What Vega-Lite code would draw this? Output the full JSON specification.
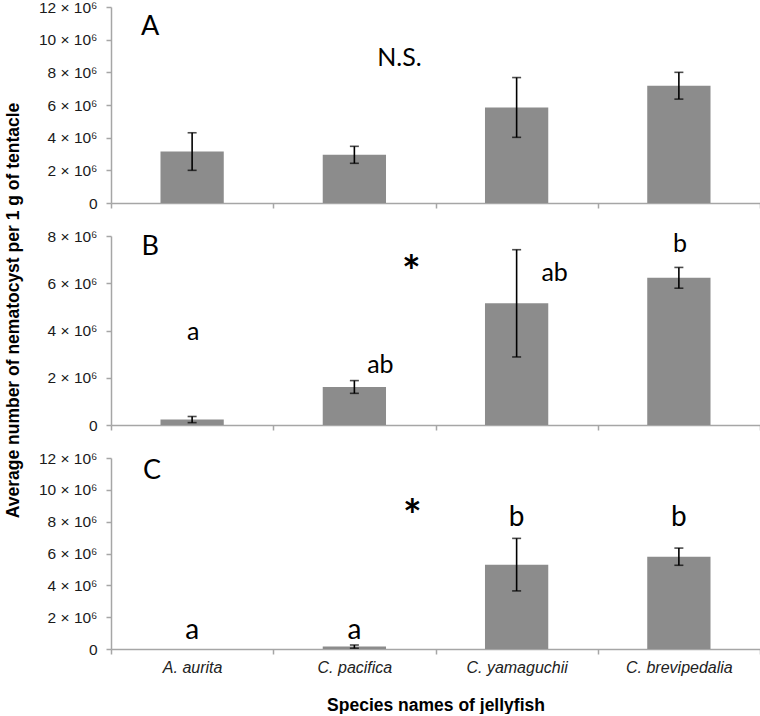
{
  "$schema": "https://vega.github.io/schema/vega-lite/v6.json",
  "background": "white",
  "padding": {"left": 3, "top": 0, "right": 1, "bottom": 0},
  "bounds": "flush",
  "spacing": 33,
  "config": {
    "view": {"stroke": null},
    "axis": {
      "grid": false,
      "domainColor": "#a6a6a6",
      "domainWidth": 1.5,
      "tickColor": "#a6a6a6",
      "tickWidth": 1.5,
      "tickSize": 5,
      "labelFont": "Liberation Sans",
      "labelFontSize": 15.5,
      "labelColor": "#1a1a1a",
      "labelOverlap": false,
      "titleFont": "Liberation Sans",
      "titleFontSize": 17.5,
      "titleFontWeight": "bold",
      "titleColor": "#000000"
    },
    "text": {"font": "Lato", "fontSize": 25, "color": "#000000", "baseline": "middle", "align": "center"}
  },
  "datasets": {
    "barsA": [
      {"species": "A. aurita", "mean": 3150000, "err": 1150000},
      {"species": "C. pacifica", "mean": 2950000, "err": 520000},
      {"species": "C. yamaguchii", "mean": 5850000, "err": 1830000},
      {"species": "C. brevipedalia", "mean": 7180000, "err": 820000}
    ],
    "barsB": [
      {"species": "A. aurita", "mean": 230000, "err": 130000},
      {"species": "C. pacifica", "mean": 1610000, "err": 270000},
      {"species": "C. yamaguchii", "mean": 5150000, "err": 2270000},
      {"species": "C. brevipedalia", "mean": 6230000, "err": 440000}
    ],
    "barsC": [
      {"species": "A. aurita", "mean": 0, "err": null},
      {"species": "C. pacifica", "mean": 150000, "err": 100000},
      {"species": "C. yamaguchii", "mean": 5300000, "err": 1650000},
      {"species": "C. brevipedalia", "mean": 5800000, "err": 540000}
    ],
    "notes": [
      {"panel": "A", "kind": "panel", "species": "A. aurita", "label": "A", "y": 10800000},
      {"panel": "A", "kind": "test", "species": "C. pacifica", "label": "N.S.", "y": 8870000},
      {"panel": "B", "kind": "panel", "species": "A. aurita", "label": "B", "y": 7540000},
      {"panel": "B", "kind": "letter", "species": "A. aurita", "label": "a", "y": 3950000},
      {"panel": "B", "kind": "letter2", "species": "C. pacifica", "label": "ab", "y": 2520000},
      {"panel": "B", "kind": "test", "species": "C. pacifica", "label": "*", "y": 6400000},
      {"panel": "B", "kind": "letter3", "species": "C. yamaguchii", "label": "ab", "y": 6450000},
      {"panel": "B", "kind": "letter", "species": "C. brevipedalia", "label": "b", "y": 7670000},
      {"panel": "C", "kind": "panel", "species": "A. aurita", "label": "C", "y": 11200000},
      {"panel": "C", "kind": "letter", "species": "A. aurita", "label": "a", "y": 1130000},
      {"panel": "C", "kind": "letter", "species": "C. pacifica", "label": "a", "y": 1130000},
      {"panel": "C", "kind": "test", "species": "C. pacifica", "label": "*", "y": 8260000},
      {"panel": "C", "kind": "letter", "species": "C. yamaguchii", "label": "b", "y": 8240000},
      {"panel": "C", "kind": "letter", "species": "C. brevipedalia", "label": "b", "y": 8240000}
    ]
  },
  "vconcat": [
    {
      "width": 649,
      "height": 196,
      "encoding": {
        "x": {"field": "species", "type": "nominal",
          "scale": {"domain": ["A. aurita", "C. pacifica", "C. yamaguchii", "C. brevipedalia"], "paddingInner": 0, "paddingOuter": 0},
          "axis": {"labels": false, "title": null, "tickBand": "extent"}}
      },
      "layer": [
        {
          "data": {"name": "barsA"},
          "mark": {"type": "bar", "color": "#8c8c8c", "width": {"band": 0.39}},
          "encoding": {
            "y": {"field": "mean", "type": "quantitative",
              "scale": {"domain": [0, 12000000], "nice": false},
              "axis": {"title": null, "labelOverlap": false, "values": [0, 2000000, 4000000, 6000000, 8000000, 10000000, 12000000], "labelPadding": 9,
                "labelExpr": "datum.value == 0 ? '0' : format(datum.value / 1000000, 'd') + ' × 10⁶'"}}
          }
        },
        {
          "data": {"name": "barsA"},
          "mark": {"type": "errorbar", "ticks": {"size": 9, "thickness": 1.6, "color": "#000000"}, "rule": {"strokeWidth": 1.6, "color": "#000000"}},
          "encoding": {
            "y": {"field": "mean", "type": "quantitative",
              "axis": {"title": null, "labelOverlap": false, "values": [0, 2000000, 4000000, 6000000, 8000000, 10000000, 12000000], "labelPadding": 9,
                "labelExpr": "datum.value == 0 ? '0' : format(datum.value / 1000000, 'd') + ' × 10⁶'"}},
            "yError": {"field": "err"}
          }
        },
        {
          "data": {"name": "notes"},
          "transform": [{"filter": "datum.panel == 'A' && datum.kind == 'panel'"}],
          "mark": {"type": "text", "dx": -42, "fontSize": 27},
          "encoding": {
            "y": {"field": "y", "type": "quantitative",
              "axis": {"title": null, "labelOverlap": false, "values": [0, 2000000, 4000000, 6000000, 8000000, 10000000, 12000000], "labelPadding": 9,
                "labelExpr": "datum.value == 0 ? '0' : format(datum.value / 1000000, 'd') + ' × 10⁶'"}},
            "text": {"field": "label"}
          }
        },
        {
          "data": {"name": "notes"},
          "transform": [{"filter": "datum.panel == 'A' && datum.kind == 'test'"}],
          "mark": {"type": "text", "dx": 45, "fontSize": 25},
          "encoding": {
            "y": {"field": "y", "type": "quantitative",
              "axis": {"title": null, "labelOverlap": false, "values": [0, 2000000, 4000000, 6000000, 8000000, 10000000, 12000000], "labelPadding": 9,
                "labelExpr": "datum.value == 0 ? '0' : format(datum.value / 1000000, 'd') + ' × 10⁶'"}},
            "text": {"field": "label"}
          }
        }
      ]
    },
    {
      "width": 649,
      "height": 189,
      "encoding": {
        "x": {"field": "species", "type": "nominal",
          "scale": {"domain": ["A. aurita", "C. pacifica", "C. yamaguchii", "C. brevipedalia"], "paddingInner": 0, "paddingOuter": 0},
          "axis": {"labels": false, "title": null, "tickBand": "extent"}}
      },
      "layer": [
        {
          "data": {"name": "barsB"},
          "mark": {"type": "bar", "color": "#8c8c8c", "width": {"band": 0.39}},
          "encoding": {
            "y": {"field": "mean", "type": "quantitative",
              "scale": {"domain": [0, 8000000], "nice": false},
              "axis": {"title": "Average number of nematocyst per 1 g of tentacle", "titleY": 74, "titleX": -98, "titleBaseline": "middle", "titleAngle": 270,
                "labelOverlap": false, "values": [0, 2000000, 4000000, 6000000, 8000000], "labelPadding": 9,
                "labelExpr": "datum.value == 0 ? '0' : format(datum.value / 1000000, 'd') + ' × 10⁶'"}}
          }
        },
        {
          "data": {"name": "barsB"},
          "mark": {"type": "errorbar", "ticks": {"size": 9, "thickness": 1.6, "color": "#000000"}, "rule": {"strokeWidth": 1.6, "color": "#000000"}},
          "encoding": {
            "y": {"field": "mean", "type": "quantitative",
              "axis": {"title": "Average number of nematocyst per 1 g of tentacle", "titleY": 74, "titleX": -98, "titleBaseline": "middle", "titleAngle": 270,
                "labelOverlap": false, "values": [0, 2000000, 4000000, 6000000, 8000000], "labelPadding": 9,
                "labelExpr": "datum.value == 0 ? '0' : format(datum.value / 1000000, 'd') + ' × 10⁶'"}},
            "yError": {"field": "err"}
          }
        },
        {
          "data": {"name": "notes"},
          "transform": [{"filter": "datum.panel == 'B' && datum.kind == 'panel'"}],
          "mark": {"type": "text", "dx": -42, "fontSize": 27},
          "encoding": {
            "y": {"field": "y", "type": "quantitative",
              "axis": {"title": "Average number of nematocyst per 1 g of tentacle", "titleY": 74, "titleX": -98, "titleBaseline": "middle", "titleAngle": 270,
                "labelOverlap": false, "values": [0, 2000000, 4000000, 6000000, 8000000], "labelPadding": 9,
                "labelExpr": "datum.value == 0 ? '0' : format(datum.value / 1000000, 'd') + ' × 10⁶'"}},
            "text": {"field": "label"}
          }
        },
        {
          "data": {"name": "notes"},
          "transform": [{"filter": "datum.panel == 'B' && datum.kind == 'letter'"}],
          "mark": {"type": "text", "dx": 1, "fontSize": 25},
          "encoding": {
            "y": {"field": "y", "type": "quantitative",
              "axis": {"title": "Average number of nematocyst per 1 g of tentacle", "titleY": 74, "titleX": -98, "titleBaseline": "middle", "titleAngle": 270,
                "labelOverlap": false, "values": [0, 2000000, 4000000, 6000000, 8000000], "labelPadding": 9,
                "labelExpr": "datum.value == 0 ? '0' : format(datum.value / 1000000, 'd') + ' × 10⁶'"}},
            "text": {"field": "label"}
          }
        },
        {
          "data": {"name": "notes"},
          "transform": [{"filter": "datum.panel == 'B' && datum.kind == 'letter2'"}],
          "mark": {"type": "text", "dx": 26, "fontSize": 25},
          "encoding": {
            "y": {"field": "y", "type": "quantitative",
              "axis": {"title": "Average number of nematocyst per 1 g of tentacle", "titleY": 74, "titleX": -98, "titleBaseline": "middle", "titleAngle": 270,
                "labelOverlap": false, "values": [0, 2000000, 4000000, 6000000, 8000000], "labelPadding": 9,
                "labelExpr": "datum.value == 0 ? '0' : format(datum.value / 1000000, 'd') + ' × 10⁶'"}},
            "text": {"field": "label"}
          }
        },
        {
          "data": {"name": "notes"},
          "transform": [{"filter": "datum.panel == 'B' && datum.kind == 'letter3'"}],
          "mark": {"type": "text", "dx": 38, "fontSize": 25},
          "encoding": {
            "y": {"field": "y", "type": "quantitative",
              "axis": {"title": "Average number of nematocyst per 1 g of tentacle", "titleY": 74, "titleX": -98, "titleBaseline": "middle", "titleAngle": 270,
                "labelOverlap": false, "values": [0, 2000000, 4000000, 6000000, 8000000], "labelPadding": 9,
                "labelExpr": "datum.value == 0 ? '0' : format(datum.value / 1000000, 'd') + ' × 10⁶'"}},
            "text": {"field": "label"}
          }
        },
        {
          "data": {"name": "notes"},
          "transform": [{"filter": "datum.panel == 'B' && datum.kind == 'test'"}],
          "mark": {"type": "text", "dx": 57, "fontSize": 44, "fontWeight": "bold"},
          "encoding": {
            "y": {"field": "y", "type": "quantitative",
              "axis": {"title": "Average number of nematocyst per 1 g of tentacle", "titleY": 74, "titleX": -98, "titleBaseline": "middle", "titleAngle": 270,
                "labelOverlap": false, "values": [0, 2000000, 4000000, 6000000, 8000000], "labelPadding": 9,
                "labelExpr": "datum.value == 0 ? '0' : format(datum.value / 1000000, 'd') + ' × 10⁶'"}},
            "text": {"field": "label"}
          }
        }
      ]
    },
    {
      "width": 649,
      "height": 191,
      "encoding": {
        "x": {"field": "species", "type": "nominal",
          "scale": {"domain": ["A. aurita", "C. pacifica", "C. yamaguchii", "C. brevipedalia"], "paddingInner": 0, "paddingOuter": 0},
          "axis": {"title": "Species names of jellyfish", "tickBand": "extent", "labelAngle": 0, "labelFontStyle": "italic", "labelFontSize": 16, "labelColor": "#222222", "labelPadding": 5, "titlePadding": 21}}
      },
      "layer": [
        {
          "data": {"name": "barsC"},
          "mark": {"type": "bar", "color": "#8c8c8c", "width": {"band": 0.39}},
          "encoding": {
            "y": {"field": "mean", "type": "quantitative",
              "scale": {"domain": [0, 12000000], "nice": false},
              "axis": {"title": null, "labelOverlap": false, "values": [0, 2000000, 4000000, 6000000, 8000000, 10000000, 12000000], "labelPadding": 9,
                "labelExpr": "datum.value == 0 ? '0' : format(datum.value / 1000000, 'd') + ' × 10⁶'"}}
          }
        },
        {
          "data": {"name": "barsC"},
          "transform": [{"filter": "isValid(datum.err)"}],
          "mark": {"type": "errorbar", "ticks": {"size": 9, "thickness": 1.6, "color": "#000000"}, "rule": {"strokeWidth": 1.6, "color": "#000000"}},
          "encoding": {
            "y": {"field": "mean", "type": "quantitative",
              "axis": {"title": null, "labelOverlap": false, "values": [0, 2000000, 4000000, 6000000, 8000000, 10000000, 12000000], "labelPadding": 9,
                "labelExpr": "datum.value == 0 ? '0' : format(datum.value / 1000000, 'd') + ' × 10⁶'"}},
            "yError": {"field": "err"}
          }
        },
        {
          "data": {"name": "notes"},
          "transform": [{"filter": "datum.panel == 'C' && datum.kind == 'panel'"}],
          "mark": {"type": "text", "dx": -40, "fontSize": 27},
          "encoding": {
            "y": {"field": "y", "type": "quantitative",
              "axis": {"title": null, "labelOverlap": false, "values": [0, 2000000, 4000000, 6000000, 8000000, 10000000, 12000000], "labelPadding": 9,
                "labelExpr": "datum.value == 0 ? '0' : format(datum.value / 1000000, 'd') + ' × 10⁶'"}},
            "text": {"field": "label"}
          }
        },
        {
          "data": {"name": "notes"},
          "transform": [{"filter": "datum.panel == 'C' && datum.kind == 'letter'"}],
          "mark": {"type": "text", "dx": 0, "fontSize": 28},
          "encoding": {
            "y": {"field": "y", "type": "quantitative",
              "axis": {"title": null, "labelOverlap": false, "values": [0, 2000000, 4000000, 6000000, 8000000, 10000000, 12000000], "labelPadding": 9,
                "labelExpr": "datum.value == 0 ? '0' : format(datum.value / 1000000, 'd') + ' × 10⁶'"}},
            "text": {"field": "label"}
          }
        },
        {
          "data": {"name": "notes"},
          "transform": [{"filter": "datum.panel == 'C' && datum.kind == 'test'"}],
          "mark": {"type": "text", "dx": 58, "fontSize": 44, "fontWeight": "bold"},
          "encoding": {
            "y": {"field": "y", "type": "quantitative",
              "axis": {"title": null, "labelOverlap": false, "values": [0, 2000000, 4000000, 6000000, 8000000, 10000000, 12000000], "labelPadding": 9,
                "labelExpr": "datum.value == 0 ? '0' : format(datum.value / 1000000, 'd') + ' × 10⁶'"}},
            "text": {"field": "label"}
          }
        }
      ]
    }
  ]
}
